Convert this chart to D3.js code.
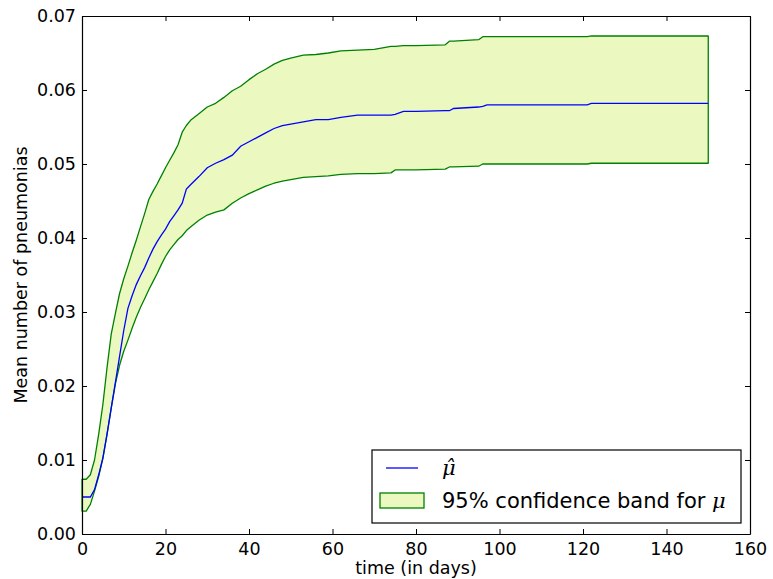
<!DOCTYPE html>
<html>
<head>
<meta charset="utf-8">
<script src="https://cdn.jsdelivr.net/npm/d3@7"></script>
<style>
	body { margin: 0; background: #fff; }
	.chart text { font-family: "DejaVu Sans", sans-serif; fill: #000; }
	.axis path, .axis line { stroke: #000; }
</style>
</head>
<body>
<div class="chart"></div>
<script>
// time points (days)
var days = [0, 1, 2, 3, 4, 5, 6, 7, 8, 9, 10, 11, 12, 13, 14, 15, 16, 17, 18, 19, 20, 21, 22, 23, 24, 25, 26,
	28, 30, 32, 34, 36, 38, 40, 42, 44, 46, 48, 50, 53, 56, 59, 62, 66, 70,
	74, 75, 77, 80, 87, 88, 89, 95, 96, 97, 110, 121, 122, 150];

// estimated mean number of pneumonias
var muHat = [0.0050, 0.0050, 0.0050, 0.0060, 0.0080, 0.0103, 0.0135, 0.0170, 0.0205, 0.0240, 0.0275, 0.0305, 0.0322, 0.0337, 0.0349, 0.0360, 0.0373, 0.0385, 0.0395, 0.0404, 0.0412, 0.0422, 0.0430, 0.0438, 0.0447, 0.0466, 0.0472,
	0.0483, 0.0495, 0.0501, 0.0506, 0.0512, 0.0524, 0.0530, 0.0536, 0.0542, 0.0548, 0.0552, 0.0554, 0.0557, 0.0560, 0.0560, 0.0563, 0.0566, 0.0566,
	0.0566, 0.0567, 0.0571, 0.0571, 0.0572, 0.0572, 0.0575, 0.0577, 0.0578, 0.0580, 0.0580, 0.0580, 0.0582, 0.0582];

// 95% band, upper limit
var upper = [0.0074, 0.0074, 0.0080, 0.0100, 0.0135, 0.0175, 0.0225, 0.0270, 0.0298, 0.0325, 0.0345, 0.0362, 0.0380, 0.0397, 0.0415, 0.0433, 0.0452, 0.0463, 0.0473, 0.0484, 0.0495, 0.0505, 0.0515, 0.0526, 0.0543, 0.0552, 0.0559,
	0.0568, 0.0577, 0.0582, 0.0590, 0.0599, 0.0605, 0.0614, 0.0622, 0.0628, 0.0635, 0.0640, 0.0643, 0.0647, 0.0648, 0.0650, 0.0653, 0.0654, 0.0655,
	0.0659, 0.0659, 0.0660, 0.0660, 0.0661, 0.0666, 0.0666, 0.0668, 0.0672, 0.0672, 0.0672, 0.0672, 0.0673, 0.0673];

// 95% band, lower limit
var lower = [0.0031, 0.0031, 0.0040, 0.0058, 0.0078, 0.0102, 0.0135, 0.0170, 0.0203, 0.0228, 0.0247, 0.0262, 0.0278, 0.0293, 0.0306, 0.0318, 0.0330, 0.0341, 0.0352, 0.0364, 0.0375, 0.0384, 0.0391, 0.0398, 0.0403, 0.0410, 0.0415,
	0.0424, 0.0431, 0.0435, 0.0438, 0.0447, 0.0454, 0.0460, 0.0465, 0.0470, 0.0474, 0.0477, 0.0479, 0.0482, 0.0483, 0.0484, 0.0486, 0.0487, 0.0487,
	0.0488, 0.0492, 0.0492, 0.0492, 0.0493, 0.0496, 0.0496, 0.0497, 0.0500, 0.0500, 0.0500, 0.0500, 0.0501, 0.0501];

var xTicks = [0, 20, 40, 60, 80, 100, 120, 140, 160];
var yTicks = [0, 0.01, 0.02, 0.03, 0.04, 0.05, 0.06, 0.07];

var margin = {
	top: 16,
	right: 23,
	bottom: 45,
	left: 82
};

var width = 773 - margin.left - margin.right;
var height = 579 - margin.top - margin.bottom;

var svg = d3.select('.chart')
	.append('svg')
	.attr('width', 773)
	.attr('height', 579)
	.append('g')
	.attr('transform', 'translate(' + margin.left + ',' + margin.top + ')');

var x = d3.scaleLinear()
	.domain([0, 160])
	.range([0, width]);

var y = d3.scaleLinear()
	.domain([0, 0.07])
	.range([height, 0]);

var rows = days.map(function (d, i) {
	return { t: d, mu: muHat[i], hi: upper[i], lo: lower[i] };
});

//confidence band
var band = d3.area()
	.x(function (d) { return x(d.t); })
	.y0(function (d) { return y(d.lo); })
	.y1(function (d) { return y(d.hi); });

svg.append('path')
	.datum(rows)
	.attr('d', function (d) { return band(d) + 'Z'; })
	.attr('fill', '#ebf9c1')
	.attr('stroke', '#008000')
	.attr('stroke-width', 1.3)
	.attr('stroke-linejoin', 'round');

//mean line
var line = d3.line()
	.x(function (d) { return x(d.t); })
	.y(function (d) { return y(d.mu); });

svg.append('path')
	.datum(rows)
	.attr('d', line)
	.attr('fill', 'none')
	.attr('stroke', '#0000ff')
	.attr('stroke-width', 1.3);

//axes, ticks inward on all four sides
var fmtY = d3.format('.2f');

svg.append('g')
	.attr('class', 'x axis')
	.attr('transform', 'translate(0,' + height + ')')
	.call(d3.axisBottom(x).tickValues(xTicks).tickSizeInner(-5).tickSizeOuter(0).tickPadding(9))
	.selectAll('text').style('font-size', '17.5px');

svg.append('g')
	.attr('class', 'x axis')
	.call(d3.axisTop(x).tickValues(xTicks).tickSizeInner(-5).tickSizeOuter(0).tickFormat(''));

svg.append('g')
	.attr('class', 'y axis')
	.call(d3.axisLeft(y).tickValues(yTicks).tickSizeInner(-5).tickSizeOuter(0).tickPadding(6).tickFormat(fmtY))
	.selectAll('text').style('font-size', '17.5px');

svg.append('g')
	.attr('class', 'y axis')
	.attr('transform', 'translate(' + width + ',0)')
	.call(d3.axisRight(y).tickValues(yTicks).tickSizeInner(-5).tickSizeOuter(0).tickFormat(''));

svg.selectAll('.axis path').attr('stroke-width', 1.2);

//axis labels
svg.append('text')
	.attr('x', width / 2)
	.attr('y', height + 40)
	.attr('text-anchor', 'middle')
	.style('font-size', '17.5px')
	.text('time (in days)');

svg.append('text')
	.attr('transform', 'translate(' + (-55) + ',' + (height / 2) + ') rotate(-90)')
	.attr('text-anchor', 'middle')
	.style('font-size', '17.5px')
	.text('Mean number of pneumonias');

//legend, lower right corner
var legW = 369,
	legH = 73;

var legend = svg.append('g')
	.attr('transform', 'translate(' + (width - 9 - legW) + ',' + (height - 11 - legH) + ')');

legend.append('rect')
	.attr('width', legW)
	.attr('height', legH)
	.attr('fill', '#fff')
	.attr('stroke', '#000')
	.attr('stroke-width', 1.2);

legend.append('line')
	.attr('x1', 14)
	.attr('x2', 46)
	.attr('y1', 18)
	.attr('y2', 18)
	.attr('stroke', '#0000ff')
	.attr('stroke-width', 1.3);

legend.append('text')
	.attr('x', 70)
	.attr('y', 25)
	.style('font-size', '21px')
	.style('font-family', '"DejaVu Serif", serif')
	.style('font-style', 'italic')
	.text('\u03bc\u0302');

legend.append('rect')
	.attr('x', 8)
	.attr('y', 43)
	.attr('width', 44)
	.attr('height', 15)
	.attr('fill', '#ebf9c1')
	.attr('stroke', '#008000')
	.attr('stroke-width', 1.3);

var bandLabel = legend.append('text')
	.attr('x', 70)
	.attr('y', 58)
	.style('font-size', '21px');

bandLabel.append('tspan').text('95% confidence band for ');
bandLabel.append('tspan')
	.style('font-family', '"DejaVu Serif", serif')
	.style('font-style', 'italic')
	.text('\u03bc');
</script>
</body>
</html>
